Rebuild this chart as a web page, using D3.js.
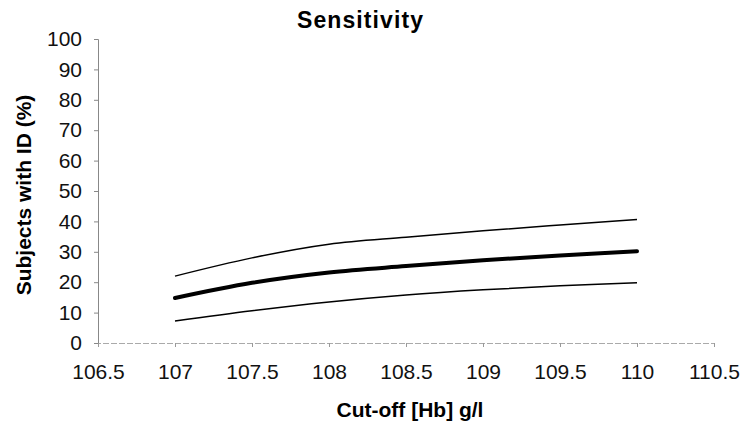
<!DOCTYPE html>
<html>
<head>
<meta charset="utf-8">
<script src="https://cdn.jsdelivr.net/npm/d3@7"></script>
<style>
  body { margin: 0; background: #fff; }
  svg { font-family: "Liberation Sans", Arial, sans-serif; }
</style>
</head>
<body>
<svg id="chart" width="743" height="423"></svg>
<script>
// cut-off values (g/l) and sensitivity with its confidence band
const cutoffs = [107, 107.5, 108, 108.5, 109, 109.5, 110];
const sensitivity = [14.8, 19.8, 23.2, 25.3, 27.2, 28.8, 30.2];
const upperCI = [22.0, 28.0, 32.5, 34.8, 36.9, 38.8, 40.6];
const lowerCI = [7.2, 10.6, 13.5, 15.8, 17.5, 18.8, 19.8];
const xTicks = [106.5, 107, 107.5, 108, 108.5, 109, 109.5, 110, 110.5];
const yTicks = [0, 10, 20, 30, 40, 50, 60, 70, 80, 90, 100];

const svg = d3.select("#chart");

const x = d3.scaleLinear().domain([106.5, 110.5]).range([98, 714]);
const y = d3.scaleLinear().domain([0, 100]).range([343, 39]);

// y axis
const yAxis = svg.append("g")
  .attr("transform", "translate(98,0)")
  .call(d3.axisLeft(y).tickValues(yTicks).tickSize(4).tickPadding(12));
yAxis.select(".domain").attr("stroke", "#888");
yAxis.selectAll(".tick line").attr("stroke", "#888");
yAxis.selectAll("text")
  .attr("font-size", 21)
  .attr("fill", "#111")
  .attr("font-family", "Liberation Sans, Arial, sans-serif");

// x axis
const xAxis = svg.append("g")
  .attr("transform", "translate(0,343)")
  .call(d3.axisBottom(x).tickValues(xTicks).tickSize(4).tickPadding(17)
    .tickFormat(d3.format("")));
xAxis.select(".domain").attr("stroke", "#aaa").attr("stroke-dasharray", "6,2");
xAxis.selectAll(".tick line").attr("stroke", "#999");
xAxis.selectAll("text")
  .attr("font-size", 21)
  .attr("fill", "#111")
  .attr("font-family", "Liberation Sans, Arial, sans-serif");

const line = d3.line()
  .x((d, i) => x(cutoffs[i]))
  .y((d) => y(d))
  .curve(d3.curveCatmullRom);

svg.append("path").datum(upperCI)
  .attr("d", line).attr("fill", "none").attr("stroke", "#000").attr("stroke-width", 1.5);
svg.append("path").datum(lowerCI)
  .attr("d", line).attr("fill", "none").attr("stroke", "#000").attr("stroke-width", 1.5);
svg.append("path").datum(sensitivity)
  .attr("d", line).attr("fill", "none").attr("stroke", "#000").attr("stroke-width", 4)
  .attr("stroke-linecap", "round");

// title and axis labels
svg.append("text")
  .attr("x", 360).attr("y", 28)
  .attr("text-anchor", "middle")
  .attr("font-size", 23).attr("font-weight", "bold")
  .attr("textLength", 126)
  .text("Sensitivity");

svg.append("text")
  .attr("x", 410).attr("y", 417)
  .attr("text-anchor", "middle")
  .attr("font-size", 21).attr("font-weight", "bold")
  .text("Cut-off [Hb] g/l");

svg.append("text")
  .attr("transform", "translate(31,195) rotate(-90)")
  .attr("text-anchor", "middle")
  .attr("font-size", 21).attr("font-weight", "bold")
  .text("Subjects with ID (%)");
</script>
</body>
</html>
